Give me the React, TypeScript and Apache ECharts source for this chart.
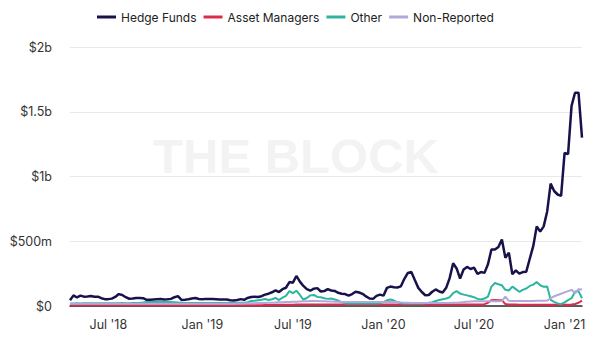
import React, { useEffect, useRef } from "react";
import * as echarts from "echarts";

// Weekly observations, starting Sunday 2018-04-15 (values in $ millions)
const START = { y: 2018, m: 3, d: 15 };
const hedgeFunds = [
  44, 82, 66, 80, 72, 74, 77, 71, 72, 60, 53, 53, 57, 70, 92, 85, 68, 56, 58, 62,
  61, 60, 48, 48, 50, 52, 54, 51, 52, 55, 68, 76, 47, 49, 52, 58, 62, 54, 52, 55,
  55, 54, 52, 50, 50, 50, 44, 43, 47, 53, 48, 62, 70, 71, 70, 76, 88, 95, 106, 120,
  108, 130, 141, 185, 180, 232, 188, 155, 130, 118, 134, 138, 112, 115, 130, 120, 116, 102, 95, 92,
  80, 92, 110, 104, 94, 74, 58, 55, 78, 88, 80, 140, 150, 145, 143, 152, 210, 255, 262, 200,
  140, 108, 83, 85, 110, 128, 112, 104, 140, 215, 330, 290, 212, 282, 302, 286, 296, 248, 262, 256,
  322, 436, 436, 456, 514, 372, 412, 245, 275, 250, 262, 265, 365, 462, 615, 574, 615, 730, 945, 888,
  861, 850, 1183, 1173, 1545, 1647, 1647, 1300,
];
const assetManagers = [
  5, 5, 5, 5, 5, 5, 5, 5, 5, 5, 5, 5, 5, 5, 5, 5, 5, 5, 5, 5,
  5, 5, 5, 5, 5, 5, 5, 5, 5, 5, 5, 5, 5, 5, 5, 5, 5, 5, 5, 5,
  5, 5, 5, 5, 5, 5, 5, 5, 5, 5, 5, 5, 5, 5, 6, 6, 7, 8, 8, 9,
  9, 10, 10, 10, 10, 11, 11, 12, 12, 12, 12, 12, 12, 12, 12, 12, 12, 12, 12, 12,
  12, 12, 12, 12, 12, 12, 12, 12, 12, 12, 12, 12, 12, 12, 12, 12, 12, 12, 12, 12,
  12, 12, 12, 12, 12, 12, 12, 12, 12, 12, 12, 12, 12, 12, 12, 12, 12, 12, 12, 14,
  25, 45, 46, 45, 44, 15, 12, 12, 11, 10, 10, 10, 10, 10, 10, 10, 10, 10, 10, 10,
  10, 10, 10, 10, 12, 15, 25, 42,
];
const other = [
  20, 20, 21, 20, 21, 21, 22, 21, 21, 22, 22, 21, 22, 22, 22, 23, 22, 22, 23, 24,
  25, 27, 30, 30, 31, 30, 30, 31, 30, 30, 29, 27, 25, 24, 24, 24, 23, 23, 23, 23,
  23, 24, 24, 24, 24, 24, 24, 24, 25, 25, 25, 30, 38, 40, 44, 48, 54, 46, 52, 62,
  46, 65, 78, 115, 100, 118, 85, 50, 62, 82, 85, 70, 68, 60, 55, 58, 50, 42, 30, 20,
  19, 19, 19, 19, 19, 19, 19, 20, 20, 22, 30, 44, 50, 42, 30, 22, 20, 20, 20, 20,
  20, 20, 21, 25, 30, 38, 46, 52, 58, 68, 100, 115, 96, 88, 82, 75, 68, 55, 50, 58,
  72, 150, 178, 168, 160, 125, 120, 150, 130, 110, 125, 135, 155, 165, 185, 160, 148, 150, 48, 32,
  20, 14, 28, 45, 60, 110, 115, 60,
];
const nonReported = [
  18, 18, 18, 18, 18, 18, 18, 18, 18, 18, 18, 18, 18, 18, 18, 18, 18, 18, 18, 18,
  18, 18, 18, 18, 18, 18, 18, 18, 18, 18, 18, 18, 18, 18, 18, 18, 18, 18, 18, 18,
  18, 18, 18, 18, 18, 18, 18, 18, 19, 20, 20, 21, 22, 22, 23, 24, 24, 25, 26, 27,
  28, 29, 30, 31, 32, 33, 35, 36, 37, 38, 38, 38, 37, 36, 35, 34, 33, 32, 31, 31,
  31, 31, 31, 31, 30, 30, 30, 30, 31, 31, 31, 31, 31, 31, 30, 28, 26, 25, 24, 23,
  23, 23, 23, 23, 23, 23, 23, 23, 23, 24, 25, 26, 28, 30, 33, 35, 36, 36, 36, 36,
  36, 36, 36, 36, 38, 72, 40, 38, 38, 38, 38, 38, 38, 38, 40, 40, 40, 42, 60, 75,
  85, 95, 105, 115, 125, 98, 130, 128,
];
const seriesNames = ["Hedge Funds", "Asset Managers", "Other", "Non-Reported"];
const seriesColors = ["#17134a", "#e02a4d", "#2cb59f", "#b3a7db"];
const yTicks = { min: 0, max: 2000, interval: 500 };
const MONTHS = ["Jan", "Feb", "Mar", "Apr", "May", "Jun", "Jul", "Aug", "Sep", "Oct", "Nov", "Dec"];

const weeks: string[] = hedgeFunds.map((_, i) => {
  const d = new Date(Date.UTC(START.y, START.m, START.d + 7 * i));
  return d.toISOString().slice(0, 10);
});

const FONT = "Inter, 'Noto Sans', sans-serif";

export default function App() {
  const ref = useRef<HTMLDivElement>(null);
  useEffect(() => {
    document.body.style.margin = "0";
    if (!ref.current) return;
    const chart = echarts.init(ref.current, null, { renderer: "svg" });
    const datasets = [hedgeFunds, assetManagers, other, nonReported];
    chart.setOption({
      animation: false,
      backgroundColor: "#ffffff",
      textStyle: { fontFamily: FONT },
      graphic: [
        {
          type: "text",
          x: 296,
          y: 156,
          silent: true,
          z: 0,
          style: {
            text: "THE BLOCK",
            fill: "#f3f3f3",
            align: "center",
            verticalAlign: "middle",
            font: "bold 49px 'Liberation Sans', Arial, sans-serif",
          },
        },
      ],
      legend: {
        left: 97,
        top: 11,
        padding: 0,
        icon: "rect",
        itemWidth: 19,
        itemHeight: 3,
        itemGap: 7,
        textStyle: { fontSize: 12, color: "#222", fontFamily: FONT },
        data: seriesNames,
      },
      grid: { left: 70, right: 18, top: 47, bottom: 31, containLabel: false },
      xAxis: {
        type: "category",
        data: weeks,
        boundaryGap: false,
        axisLine: { show: true, lineStyle: { color: "#2a2a2a", width: 1.5 } },
        axisTick: { show: false },
        splitLine: { show: false },
        axisLabel: {
          color: "#333",
          fontSize: 12.5,
          fontFamily: FONT,
          margin: 12,
          interval: (_i: number, v: string) => {
            const d = new Date(v + "T00:00:00Z");
            const m = d.getUTCMonth();
            return (m === 0 || m === 6) && d.getUTCDate() <= 7;
          },
          formatter: (v: string) => {
            const d = new Date(v + "T00:00:00Z");
            return MONTHS[d.getUTCMonth()] + " '" + String(d.getUTCFullYear()).slice(2);
          },
        },
      },
      yAxis: {
        type: "value",
        min: yTicks.min,
        max: yTicks.max,
        interval: yTicks.interval,
        axisLine: { show: false },
        axisTick: { show: false },
        splitLine: { show: true, lineStyle: { color: "#e9e9e9", width: 1 } },
        axisLabel: {
          color: "#333",
          fontSize: 12.5,
          fontFamily: FONT,
          margin: 18,
          formatter: (v: number) =>
            v === 0 ? "$0" : v >= 1000 ? "$" + v / 1000 + "b" : "$" + v + "m",
        },
      },
      series: seriesNames.map((name, k) => ({
        name,
        type: "line",
        data: datasets[k],
        showSymbol: false,
        symbol: "none",
        color: seriesColors[k],
        lineStyle: { width: k === 0 ? 2.5 : 2, color: seriesColors[k] },
        z: 2 + k,
      })),
    });
    return () => chart.dispose();
  }, []);
  return <div ref={ref} style={{ width: 600, height: 337 }} />;
}
